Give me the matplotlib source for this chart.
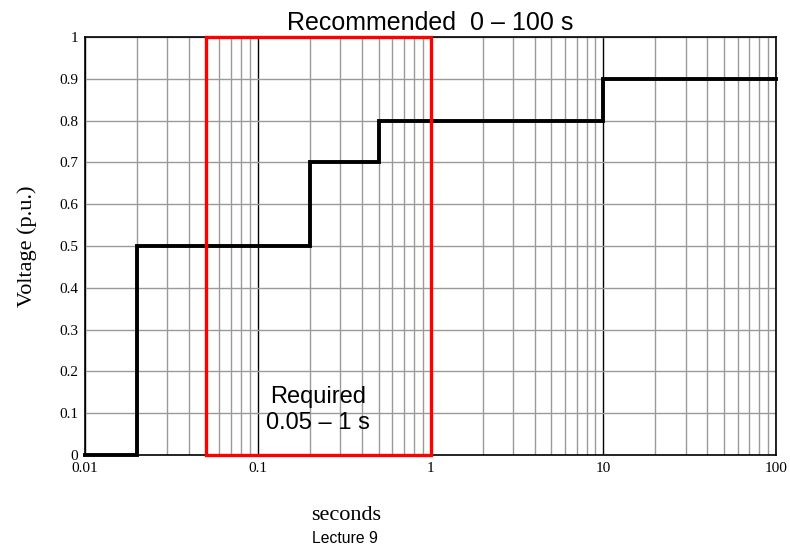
import matplotlib
matplotlib.use("Agg")
import matplotlib.pyplot as plt
from matplotlib.patches import Rectangle
from matplotlib.ticker import LogLocator, FixedLocator, NullFormatter

# Voltage ride-through profile (step function, value holds until next time)
times = [0.01, 0.02, 0.2, 0.5, 10, 100]
voltage = [0.0, 0.5, 0.7, 0.8, 0.9, 0.9]

# Required window
req_start, req_end = 0.05, 1.0

x_ticks = [0.01, 0.1, 1, 10, 100]
x_tick_labels = ["0.01", "0.1", "1", "10", "100"]
y_ticks = [0, 0.1, 0.2, 0.3, 0.4, 0.5, 0.6, 0.7, 0.8, 0.9, 1]
y_tick_labels = ["0", "0.1", "0.2", "0.3", "0.4", "0.5", "0.6", "0.7", "0.8", "0.9", "1"]

serif = ["Liberation Serif", "DejaVu Serif"]
sans = ["Liberation Sans", "DejaVu Sans"]

fig = plt.figure(figsize=(7.9, 5.48), dpi=100)
ax = fig.add_axes([0.1076, 0.1697, 0.8747, 0.7628])

ax.set_xscale("log")
ax.set_xlim(0.01, 100)
ax.set_ylim(0, 1)

# grid: minor log lines grey, decade lines black, horizontal lines grey
ax.xaxis.set_major_locator(FixedLocator(x_ticks))
ax.xaxis.set_minor_locator(LogLocator(base=10, subs=range(2, 10), numticks=20))
ax.xaxis.set_minor_formatter(NullFormatter())
ax.set_xticks(x_ticks)
ax.set_xticklabels(x_tick_labels, family=serif, fontsize=11)
ax.set_yticks(y_ticks)
ax.set_yticklabels(y_tick_labels, family=serif, fontsize=11)
ax.tick_params(which="both", length=0)
ax.tick_params(axis="x", pad=5)
ax.tick_params(axis="y", pad=5)

ax.grid(True, which="minor", axis="x", color="#9a9a9a", lw=1.0)
ax.grid(True, which="major", axis="x", color="black", lw=1.0)
ax.grid(True, which="major", axis="y", color="#9a9a9a", lw=1.0)
ax.set_axisbelow(True)

for s in ax.spines.values():
    s.set_linewidth(1.2)
    s.set_color("black")

ax.plot(times, voltage, drawstyle="steps-post", color="black", lw=2.8,
        clip_on=False, zorder=4, solid_joinstyle="miter")

ax.add_patch(Rectangle((req_start, 0), req_end - req_start, 1.0,
                       fill=False, edgecolor="#ff0000", lw=2.4,
                       clip_on=False, zorder=5, joinstyle="miter"))

ax.text((req_start * req_end) ** 0.5, 0.108, "Required\n0.05 – 1 s",
        ha="center", va="center", family=sans, fontsize=17,
        linespacing=1.25, zorder=6)

ax.set_title("Recommended  0 – 100 s", family=sans, fontsize=18, pad=5)
ax.set_ylabel("Voltage (p.u.)", family=serif, fontsize=16, labelpad=16)

fig.text(0.438, 0.06, "seconds", family=serif, fontsize=16,
         ha="center", va="center")
fig.text(0.437, 0.018, "Lecture 9", family=sans, fontsize=11.3,
         ha="center", va="center")

fig.savefig("out.png", dpi=100)
